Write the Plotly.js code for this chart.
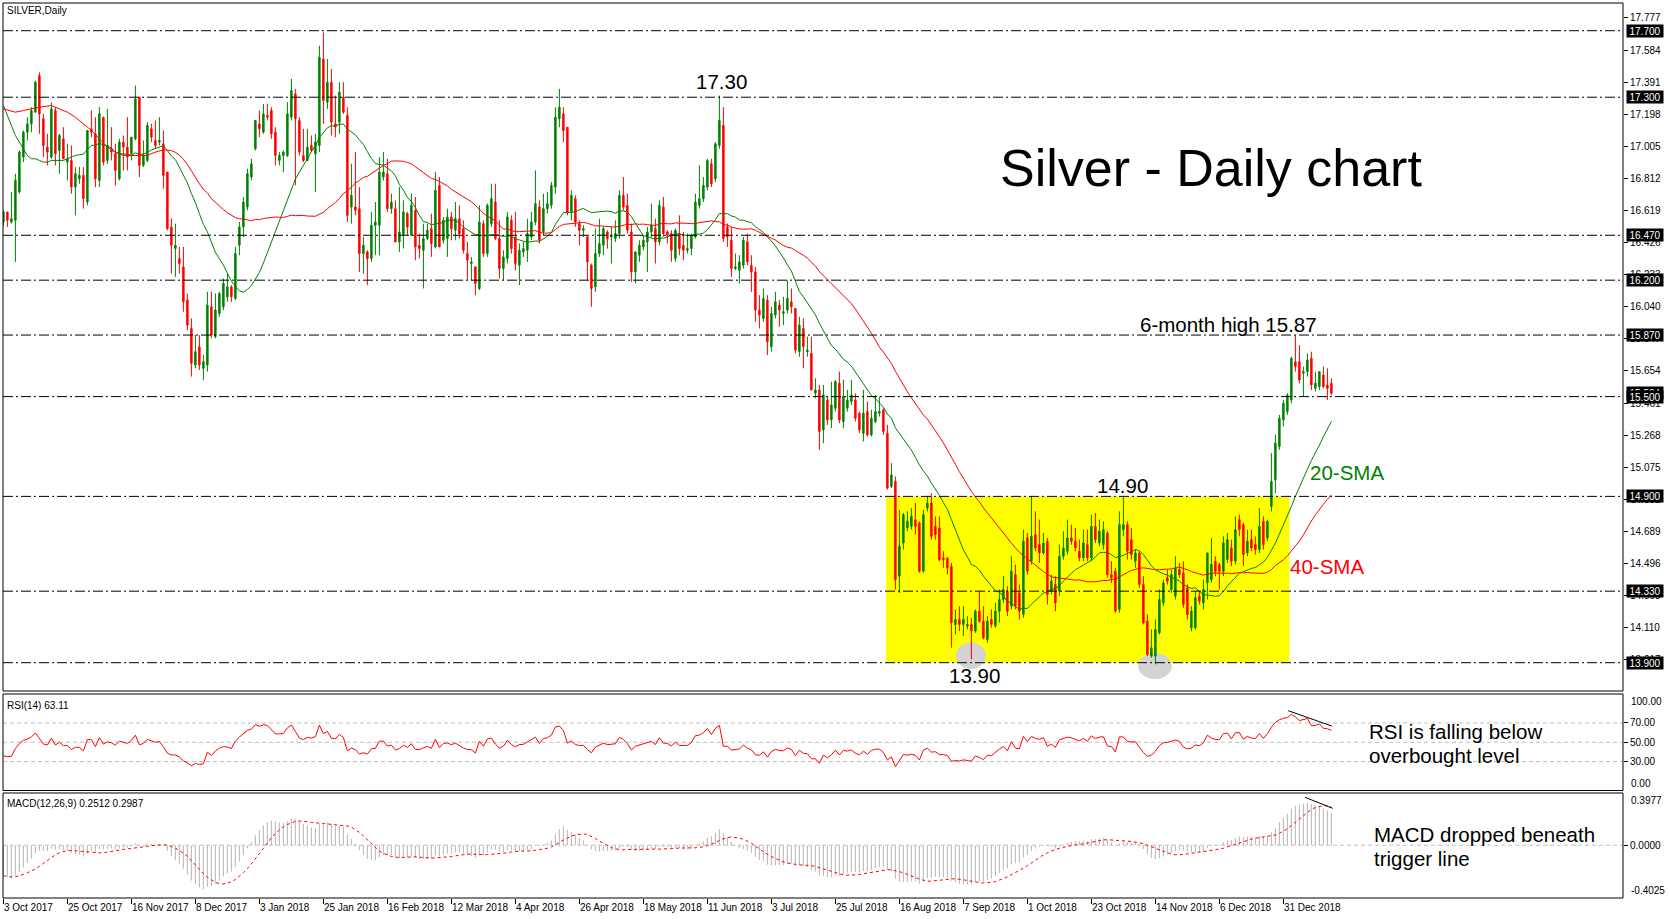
<!DOCTYPE html>
<html>
<head>
<meta charset="utf-8">
<script src="https://cdn.plot.ly/plotly-3.0.1.min.js"></script>
<style>
html,body{margin:0;padding:0;background:#ffffff;}
#chart{width:1670px;height:919px;}
</style>
</head>
<body>
<div id="chart"></div>
<script>
// ---------------- DATA ----------------
const dateLabels = ["3 Oct 2017","25 Oct 2017","16 Nov 2017","8 Dec 2017","3 Jan 2018","25 Jan 2018","16 Feb 2018","12 Mar 2018","4 Apr 2018","26 Apr 2018","18 May 2018","11 Jun 2018","3 Jul 2018","25 Jul 2018","16 Aug 2018","7 Sep 2018","1 Oct 2018","23 Oct 2018","14 Nov 2018","6 Dec 2018","31 Dec 2018"];
const dateLabelBars = [0,16,32,48,64,80,96,112,128,144,160,176,192,208,224,240,256,272,288,304,320];

const open = [
16.55,16.61,16.55,16.56,16.73,16.94,17.09,17.14,17.21,17.43,
17.17,17.00,16.94,17.22,16.98,17.05,16.91,16.92,16.76,16.81,
16.83,16.67,17.11,17.08,16.80,17.18,16.92,16.99,16.96,16.81,
17.03,17.00,16.96,17.05,17.30,16.89,16.92,17.11,17.04,17.03,
17.02,16.85,16.52,16.39,16.33,16.28,16.08,15.91,15.69,15.80,
15.67,15.69,16.04,15.86,16.00,16.04,16.10,16.16,16.09,16.41,
16.52,16.64,16.82,16.99,17.14,17.09,17.19,17.22,17.09,16.92,
16.95,16.95,17.18,17.32,17.16,16.95,16.92,17.01,16.96,17.01,
17.53,17.27,17.39,17.14,17.15,17.30,17.19,16.64,16.64,16.63,
16.36,16.37,16.33,16.53,16.53,16.82,16.84,16.63,16.63,16.43,
16.47,16.60,16.47,16.62,16.41,16.38,16.45,16.51,16.40,16.77,
16.44,16.45,16.58,16.50,16.57,16.51,16.36,16.30,16.28,16.15,
16.54,16.36,16.54,16.67,16.45,16.27,16.33,16.56,16.46,16.29,
16.37,16.38,16.46,16.55,16.64,16.49,16.63,16.65,16.76,17.17,
17.20,17.12,16.61,16.69,16.54,16.50,16.46,16.29,16.16,16.36,
16.41,16.49,16.46,16.45,16.48,16.71,16.65,16.49,16.25,16.35,
16.40,16.43,16.49,16.51,16.43,16.64,16.49,16.48,16.33,16.48,
16.41,16.38,16.39,16.46,16.65,16.69,16.76,16.90,16.81,17.01,
17.13,16.52,16.44,16.27,16.26,16.29,16.43,16.29,16.25,16.02,
15.97,16.08,15.80,15.99,16.05,16.00,16.02,16.07,16.03,15.77,
15.91,15.77,15.76,15.52,15.54,15.30,15.48,15.36,15.43,15.58,
15.35,15.43,15.47,15.48,15.40,15.28,15.41,15.27,15.35,15.40,
15.42,15.28,14.96,14.99,14.42,14.62,14.71,14.72,14.76,14.74,
14.45,14.83,14.86,14.72,14.71,14.53,14.53,14.48,14.13,14.16,
14.13,14.12,14.13,14.09,14.21,14.15,14.04,14.16,14.12,14.21,
14.28,14.33,14.24,14.43,14.32,14.19,14.65,14.51,14.67,14.61,
14.56,14.63,14.33,14.37,14.33,14.54,14.57,14.65,14.63,14.57,
14.53,14.61,14.53,14.72,14.62,14.61,14.68,14.43,14.45,14.22,
14.70,14.73,14.64,14.51,14.56,14.37,14.15,13.94,13.94,14.08,
14.26,14.41,14.34,14.30,14.46,14.44,14.35,14.11,14.11,14.30,
14.26,14.38,14.40,14.51,14.49,14.45,14.52,14.59,14.51,14.76,
14.73,14.56,14.64,14.61,14.58,14.75,14.65,14.84,15.00,15.20,
15.36,15.41,15.48,15.71,15.71,15.64,15.65,15.73,15.55,15.56,
15.63,15.57,15.58];

const high = [
16.62,16.61,16.73,16.84,16.98,17.10,17.18,17.24,17.40,17.45,
17.20,17.08,17.27,17.24,17.08,17.12,17.02,17.01,16.88,16.88,
16.88,17.10,17.22,17.18,17.24,17.18,17.23,17.12,17.02,17.05,
17.07,17.18,17.06,17.37,17.30,17.04,17.15,17.14,17.16,17.18,
17.10,16.85,16.57,16.54,16.40,16.40,16.12,15.97,15.87,15.87,
15.75,16.13,16.13,16.12,16.13,16.21,16.24,16.17,16.40,16.55,
16.70,16.87,16.93,17.16,17.22,17.26,17.26,17.24,17.12,16.97,
16.98,17.27,17.41,17.35,17.18,17.11,17.11,17.07,17.08,17.61,
17.69,17.53,17.47,17.31,17.39,17.39,17.24,16.90,16.97,16.76,
16.46,16.38,16.61,16.67,16.94,16.97,16.93,16.72,16.68,16.76,
16.68,16.61,16.72,16.70,16.48,16.54,16.54,16.60,16.85,16.82,
16.58,16.63,16.61,16.67,16.65,16.56,16.43,16.34,16.28,16.65,
16.56,16.66,16.78,16.78,16.56,16.38,16.61,16.59,16.61,16.42,
16.43,16.57,16.61,16.86,16.68,16.72,16.73,16.79,17.24,17.35,
17.24,17.12,16.74,16.71,16.56,16.53,16.47,16.30,16.51,16.57,
16.52,16.50,16.52,16.56,16.74,16.82,16.72,16.54,16.37,16.44,
16.47,16.52,16.66,16.57,16.68,16.70,16.50,16.50,16.51,16.59,
16.49,16.48,16.48,16.72,16.89,16.82,16.93,16.93,17.03,17.31,
17.24,16.54,16.52,16.36,16.35,16.46,16.48,16.35,16.28,16.11,
16.15,16.11,16.04,16.13,16.08,16.10,16.20,16.15,16.03,15.98,
15.97,15.86,15.86,15.61,15.57,15.57,15.50,15.59,15.60,15.65,
15.60,15.54,15.60,15.52,15.41,15.54,15.47,15.42,15.51,15.50,
15.43,15.33,15.10,15.02,14.82,14.80,14.81,14.83,14.86,14.75,
14.82,14.90,14.92,14.78,14.78,14.57,14.53,14.50,14.22,14.24,
14.24,14.18,14.17,14.22,14.33,14.24,14.18,14.22,14.26,14.34,
14.42,14.36,14.54,14.49,14.37,14.70,14.68,14.90,14.81,14.76,
14.68,14.65,14.43,14.42,14.61,14.69,14.76,14.73,14.71,14.64,
14.70,14.70,14.79,14.80,14.76,14.75,14.69,14.51,14.47,14.81,
14.90,14.75,14.71,14.58,14.57,14.42,14.19,14.10,14.16,14.34,
14.40,14.46,14.46,14.54,14.50,14.51,14.37,14.24,14.33,14.33,
14.40,14.56,14.65,14.54,14.50,14.66,14.68,14.64,14.78,14.79,
14.74,14.70,14.70,14.66,14.83,14.78,14.76,15.16,15.27,15.39,
15.48,15.52,15.74,15.87,15.81,15.68,15.76,15.77,15.65,15.65,
15.68,15.67,15.61];

const low = [
16.53,16.52,16.54,16.31,16.72,16.91,17.04,17.09,17.21,17.08,
16.94,16.89,16.93,16.89,16.84,16.93,16.80,16.72,16.59,16.78,
16.63,16.65,17.06,16.76,16.76,16.89,16.90,16.92,16.77,16.80,
16.86,16.86,16.92,17.04,16.82,16.88,16.91,17.03,16.99,17.01,
16.75,16.50,16.24,16.22,16.24,16.01,15.90,15.62,15.67,15.66,
15.60,15.65,15.85,15.85,15.98,16.02,16.07,16.07,16.08,16.35,
16.46,16.62,16.80,16.98,17.06,17.08,17.16,17.05,16.89,16.89,
16.85,16.94,17.16,16.77,16.95,16.91,16.92,16.97,16.73,16.97,
17.14,17.23,17.07,17.06,17.08,17.20,16.55,16.54,16.59,16.25,
16.24,16.17,16.31,16.35,16.35,16.80,16.61,16.60,16.43,16.37,
16.39,16.47,16.47,16.32,16.33,16.15,16.44,16.34,16.39,16.40,
16.42,16.34,16.44,16.44,16.45,16.36,16.20,16.20,16.11,16.14,
16.34,16.34,16.52,16.44,16.21,16.20,16.30,16.36,16.26,16.17,
16.34,16.31,16.44,16.53,16.42,16.47,16.60,16.63,16.72,17.12,
17.03,16.59,16.56,16.52,16.41,16.46,16.20,16.04,16.13,16.34,
16.35,16.39,16.30,16.43,16.45,16.62,16.48,16.19,16.18,16.31,
16.38,16.25,16.46,16.30,16.41,16.46,16.42,16.31,16.31,16.35,
16.32,16.36,16.35,16.45,16.63,16.67,16.74,16.76,16.79,16.99,
16.43,16.40,16.22,16.26,16.18,16.27,16.29,16.13,15.95,15.91,
15.95,15.75,15.77,15.97,15.92,15.93,16.00,16.00,15.76,15.74,
15.67,15.74,15.54,15.49,15.18,15.22,15.33,15.31,15.41,15.34,
15.31,15.41,15.45,15.35,15.28,15.23,15.26,15.26,15.34,15.38,
15.27,14.94,14.95,14.34,14.32,14.58,14.69,14.70,14.67,14.44,
14.44,14.81,14.64,14.64,14.51,14.47,14.43,13.99,14.07,14.09,
14.06,14.10,13.92,14.08,14.14,14.04,14.02,14.11,14.11,14.14,
14.26,14.18,14.22,14.22,14.16,14.17,14.43,14.49,14.57,14.50,
14.55,14.25,14.31,14.21,14.30,14.52,14.55,14.61,14.57,14.51,
14.51,14.51,14.51,14.62,14.60,14.58,14.41,14.38,14.20,14.20,
14.66,14.52,14.52,14.47,14.35,14.13,13.94,13.93,13.89,14.07,
14.24,14.37,14.32,14.28,14.41,14.23,14.16,14.09,14.10,14.25,
14.22,14.28,14.38,14.42,14.34,14.42,14.50,14.48,14.49,14.66,
14.48,14.54,14.57,14.55,14.56,14.58,14.63,14.81,14.92,15.18,
15.32,15.39,15.46,15.65,15.58,15.50,15.62,15.54,15.53,15.54,
15.55,15.48,15.51];

const close = [
16.61,16.56,16.57,16.80,16.97,17.09,17.14,17.22,17.39,17.20,
17.01,16.97,17.23,16.96,17.07,16.93,16.93,16.76,16.84,16.83,
16.69,17.10,17.09,16.81,17.20,16.91,17.01,16.97,16.86,17.03,
17.00,16.94,17.06,17.29,16.89,16.95,17.13,17.06,17.01,17.04,
16.83,16.51,16.41,16.41,16.30,16.07,15.93,15.70,15.77,15.69,
15.71,16.05,15.87,16.02,16.12,16.18,16.16,16.10,16.36,16.52,
16.67,16.84,16.90,17.16,17.11,17.20,17.18,17.08,16.95,16.95,
16.97,17.20,17.34,17.17,16.97,16.92,17.00,16.98,17.03,17.54,
17.28,17.39,17.15,17.12,17.33,17.21,16.59,16.71,16.62,16.36,
16.41,16.33,16.53,16.55,16.85,16.85,16.63,16.67,16.43,16.49,
16.61,16.52,16.65,16.40,16.39,16.45,16.50,16.42,16.74,16.40,
16.56,16.58,16.51,16.57,16.48,16.38,16.32,16.31,16.18,16.55,
16.36,16.65,16.69,16.45,16.27,16.34,16.58,16.39,16.30,16.38,
16.39,16.48,16.55,16.66,16.44,16.63,16.66,16.77,17.18,17.24,
17.10,16.61,16.71,16.55,16.50,16.51,16.31,16.15,16.36,16.42,
16.51,16.45,16.47,16.48,16.71,16.64,16.50,16.25,16.37,16.41,
16.44,16.49,16.53,16.43,16.65,16.48,16.47,16.38,16.50,16.39,
16.38,16.39,16.47,16.67,16.69,16.77,16.92,16.78,17.02,17.16,
16.45,16.46,16.27,16.28,16.31,16.44,16.31,16.25,16.02,15.99,
16.09,15.83,16.00,16.07,16.02,16.01,16.09,16.04,15.78,15.93,
15.80,15.78,15.54,15.54,15.29,15.51,15.36,15.45,15.59,15.36,
15.50,15.48,15.51,15.37,15.30,15.40,15.27,15.37,15.41,15.41,
15.29,14.95,15.03,14.40,14.60,14.79,14.75,14.78,14.72,14.45,
14.79,14.86,14.66,14.67,14.52,14.52,14.47,14.14,14.16,14.13,
14.16,14.13,14.09,14.21,14.15,14.05,14.15,14.13,14.21,14.28,
14.34,14.21,14.45,14.24,14.21,14.63,14.45,14.66,14.59,14.56,
14.62,14.31,14.39,14.26,14.54,14.59,14.65,14.63,14.59,14.53,
14.62,14.53,14.72,14.64,14.69,14.70,14.43,14.41,14.21,14.73,
14.73,14.57,14.55,14.56,14.37,14.14,13.95,13.99,14.10,14.28,
14.38,14.39,14.43,14.47,14.43,14.25,14.19,14.21,14.29,14.27,
14.34,14.56,14.49,14.45,14.45,14.62,14.64,14.51,14.70,14.70,
14.55,14.63,14.59,14.58,14.72,14.61,14.75,14.99,15.22,15.37,
15.46,15.51,15.73,15.68,15.60,15.65,15.72,15.57,15.58,15.65,
15.56,15.55,15.52];

// moving-average values before a full window exists
const sma20Lead = [17.25,17.19,17.12,17.07,17.03,16.99,16.95,16.93,16.93,16.92,16.91,16.91,16.92,16.92,16.92,16.92,16.93,16.94,16.95];
const sma40LeadBars = [0,3,5,7,9,12,14,16,18,20,22,24,26,28,30,32,34,36,38];
const sma40LeadVals = [17.23,17.21,17.22,17.23,17.24,17.25,17.23,17.21,17.18,17.14,17.10,17.05,17.00,16.97,16.95,16.95,16.95,16.95,16.97];
// indicator starting states (at the first bar)
const rsiStart = 36;
const ema12Start = 16.98;
const ema26Start = 17.20;

const levelLines = [17.700,17.300,16.470,16.200,15.870,15.500,14.900,14.330,13.900];
const lastPrice = 15.524;
const priceTicks = [17.777,17.584,17.391,17.198,17.005,16.812,16.619,16.426,16.233,16.040,15.847,15.654,15.461,15.268,15.075,14.882,14.689,14.496,14.303,14.110,13.917];
const rsiTicks = [70,50,30];

// ---------------- INDICATORS ----------------
const N = close.length;
const bars = close.map((_, i) => i);

function smaLine(n, leadBars, leadVals) {
  const xs = leadBars.slice(), ys = leadVals.slice();
  for (let i = n - 1; i < N; i++) {
    let s = 0;
    for (let k = i - n + 1; k <= i; k++) s += close[k];
    xs.push(i); ys.push(s / n);
  }
  return {x: xs, y: ys};
}
const sma20 = smaLine(20, sma20Lead.map((_, i) => i), sma20Lead);
const sma40 = smaLine(40, sma40LeadBars, sma40LeadVals);

// RSI(14), Wilder smoothing
let m = 0;
for (let k = 1; k <= 14; k++) m += Math.abs(close[k] - close[k - 1]);
m /= 14;
let ag = m * rsiStart / 100, al = m * (1 - rsiStart / 100);
const rsi = [rsiStart];
for (let k = 1; k < N; k++) {
  const ch = close[k] - close[k - 1];
  ag = (ag * 13 + Math.max(ch, 0)) / 14;
  al = (al * 13 + Math.max(-ch, 0)) / 14;
  rsi.push(100 * ag / (ag + al));
}

// MACD(12,26,9): main = EMA12-EMA26, signal = SMA9(main)
let e12 = ema12Start, e26 = ema26Start;
const macd = [];
for (let k = 0; k < N; k++) {
  e12 = e12 + (close[k] - e12) * 2 / 13;
  e26 = e26 + (close[k] - e26) * 2 / 27;
  macd.push(e12 - e26);
}
const signal = macd.map((_, k) => {
  const a = Math.max(0, k - 8);
  let s = 0;
  for (let j = a; j <= k; j++) s += macd[j];
  return s / (k - a + 1);
});

// ---------------- PLOT ----------------
const FONT = 'Liberation Sans, Arial, sans-serif';

const traces = [
  {type: 'candlestick', x: bars, open: open, high: high, low: low, close: close,
   xaxis: 'x', yaxis: 'y', whiskerwidth: 0, hoverinfo: 'skip',
   increasing: {line: {color: '#008000', width: 1}, fillcolor: '#008000'},
   decreasing: {line: {color: '#ff0000', width: 1}, fillcolor: '#ff0000'}},
  {type: 'scatter', mode: 'lines', x: sma20.x, y: sma20.y, xaxis: 'x', yaxis: 'y',
   line: {color: '#008000', width: 1}, hoverinfo: 'skip'},
  {type: 'scatter', mode: 'lines', x: sma40.x, y: sma40.y, xaxis: 'x', yaxis: 'y',
   line: {color: '#ff0000', width: 1}, hoverinfo: 'skip'},
  {type: 'scatter', mode: 'lines', x: bars, y: rsi, xaxis: 'x', yaxis: 'y2',
   line: {color: '#ff0000', width: 1}, hoverinfo: 'skip'},
  {type: 'bar', x: bars, y: macd, xaxis: 'x', yaxis: 'y3', width: 0.3,
   marker: {color: '#c0c0c0', line: {width: 0}}, hoverinfo: 'skip'},
  {type: 'scatter', mode: 'lines', x: bars, y: signal, xaxis: 'x', yaxis: 'y3',
   line: {color: '#ff0000', width: 1, dash: 'dot'}, hoverinfo: 'skip'}
];

const shapes = [];
// yellow range box and grey markers at the lows
shapes.push({type: 'rect', xref: 'x', yref: 'y', x0: 220.65, x1: 321.5, y0: 13.90, y1: 14.90,
  fillcolor: '#ffff00', line: {width: 0}, layer: 'below'});
shapes.push({type: 'circle', xref: 'x', yref: 'y', x0: 238.15, x1: 245.65, y0: 13.862, y1: 14.022,
  fillcolor: '#d3d3d3', line: {width: 0}, layer: 'below'});
shapes.push({type: 'circle', xref: 'x', yref: 'y', x0: 283.7, x1: 292.1, y0: 13.802, y1: 13.958,
  fillcolor: '#d3d3d3', line: {width: 0}, layer: 'below'});
// horizontal levels
levelLines.forEach(v => shapes.push({type: 'line', xref: 'paper', yref: 'y', x0: 0, x1: 1, y0: v, y1: v,
  line: {color: '#000', width: 1, dash: '10px,3px,2px,3px'}, layer: 'above'}));
// RSI and MACD level lines
rsiTicks.forEach(v => shapes.push({type: 'line', xref: 'paper', yref: 'y2', x0: 0, x1: 1, y0: v, y1: v,
  line: {color: '#c0c0c0', width: 1, dash: '4px,3px'}, layer: 'below'}));
shapes.push({type: 'line', xref: 'paper', yref: 'y3', x0: 0, x1: 1, y0: 0, y1: 0,
  line: {color: '#c0c0c0', width: 1, dash: '4px,3px'}, layer: 'below'});
// divergence lines
shapes.push({type: 'line', xref: 'x', yref: 'y2', x0: 321.2, y0: 82.7, x1: 332.1, y1: 66.8,
  line: {color: '#000', width: 1}});
shapes.push({type: 'line', xref: 'x', yref: 'y3', x0: 325.4, y0: 0.3649, x1: 332.3, y1: 0.2811,
  line: {color: '#000', width: 1}});
// panel frames
['y domain', 'y2 domain', 'y3 domain'].forEach(r => shapes.push({type: 'rect', xref: 'paper', yref: r,
  x0: 0, x1: 1, y0: 0, y1: 1, line: {color: '#000', width: 1}, fillcolor: 'rgba(0,0,0,0)', layer: 'above'}));

const ann = [];
function txt(text, x, y, yref, size, color, xanchor) {
  ann.push({text: text, x: x, y: y, xref: 'x', yref: yref, showarrow: false,
    xanchor: xanchor || 'center', yanchor: 'middle',
    font: {family: FONT, size: size, color: color || '#000'}});
}
txt('Silver - Daily chart', 301.9, 16.874, 'y', 52);
txt('17.30', 179.6, 17.393, 'y', 20.5);
txt('6-month high 15.87', 306.15, 15.933, 'y', 20.5);
txt('14.90', 279.8, 14.967, 'y', 20.5);
txt('13.90', 242.65, 13.825, 'y', 20.5);
txt('20-SMA', 336.0, 15.042, 'y', 20.5, '#008000');
txt('40-SMA', 331.0, 14.481, 'y', 20.5, '#ff0000');
txt('RSI is falling below', 340.8, 61.3, 'y2', 20.5, '#000', 'left');
txt('overbought level', 340.8, 36.1, 'y2', 20.5, '#000', 'left');
txt('MACD dropped beneath', 342.1, 0.0799, 'y3', 20.5, '#000', 'left');
txt('trigger line', 342.1, -0.1030, 'y3', 20.5, '#000', 'left');

// panel captions
function cap(text, yref, yshift) {
  ann.push({text: text, xref: 'paper', x: 0, xanchor: 'left', xshift: 2, yref: yref, y: 1,
    yanchor: 'top', yshift: yshift, showarrow: false, font: {family: FONT, size: 10, color: '#000'}});
}
cap('SILVER,Daily', 'paper', 0);
cap('RSI(14) 63.11', 'y2 domain', -4);
cap('MACD(12,26,9) 0.2512 0.2987', 'y3 domain', -3);

// highlighted price labels on the right scale
function priceTag(v) {
  ann.push({text: v.toFixed(3), xref: 'paper', x: 1, xanchor: 'left', xshift: 3, yref: 'y', y: v,
    yanchor: 'middle', showarrow: false, bgcolor: '#000', borderpad: 0, width: 36, height: 12,
    font: {family: FONT, size: 10, color: '#fff'}});
}
priceTag(lastPrice);
levelLines.forEach(priceTag);

// min / max labels of indicator windows
function edgeLab(text, yref, y, yanchor) {
  ann.push({text: text, xref: 'paper', x: 1, xanchor: 'left', xshift: 6, yref: yref, y: y,
    yanchor: yanchor, showarrow: false, font: {family: FONT, size: 10, color: '#000'}});
}
edgeLab('100.00', 'y2 domain', 1, 'top');
edgeLab('0.00', 'y2 domain', 0, 'bottom');
edgeLab('0.3977', 'y3 domain', 1, 'top');
edgeLab('-0.4025', 'y3 domain', 0, 'bottom');

const axFont = {family: FONT, size: 10, color: '#000'};
const layout = {
  width: 1670, height: 919,
  margin: {l: 3, r: 47, t: 3, b: 21},
  paper_bgcolor: '#ffffff', plot_bgcolor: '#ffffff',
  showlegend: false, boxgap: 0.5,
  xaxis: {anchor: 'y3', range: [-0.1, 404.9], tickmode: 'array', tickvals: dateLabelBars, ticktext: dateLabels,
    ticks: 'outside', ticklen: 5, tickcolor: '#000', ticklabelposition: 'outside right', tickangle: 0,
    ticklabeloverflow: 'allow', automargin: false,
    showgrid: false, zeroline: false, showline: false, tickfont: axFont,
    rangeslider: {visible: false}, fixedrange: true},
  yaxis: {domain: [0.23128, 1], range: [13.7298, 17.8666], side: 'right', anchor: 'x',
    tickmode: 'array', tickvals: priceTicks, ticktext: priceTicks.map(v => v.toFixed(3)),
    ticks: 'outside', ticklen: 4, tickcolor: '#000', showgrid: false, zeroline: false,
    showline: false, tickfont: axFont},
  yaxis2: {domain: [0.12011, 0.22793], range: [0, 100], side: 'right', anchor: 'x',
    tickmode: 'array', tickvals: rsiTicks, ticktext: rsiTicks.map(v => v.toFixed(2)),
    ticks: 'outside', ticklen: 4, tickcolor: '#000', showgrid: false, zeroline: false,
    showline: false, tickfont: axFont},
  yaxis3: {domain: [0, 0.11732], range: [-0.4025, 0.3977], side: 'right', anchor: 'x',
    tickmode: 'array', tickvals: [0], ticktext: ['0.0000'],
    ticks: 'outside', ticklen: 4, tickcolor: '#000', showgrid: false, zeroline: false,
    showline: false, tickfont: axFont},
  shapes: shapes,
  annotations: ann
};

Plotly.newPlot('chart', traces, layout, {displayModeBar: false, staticPlot: true});
</script>
</body>
</html>
